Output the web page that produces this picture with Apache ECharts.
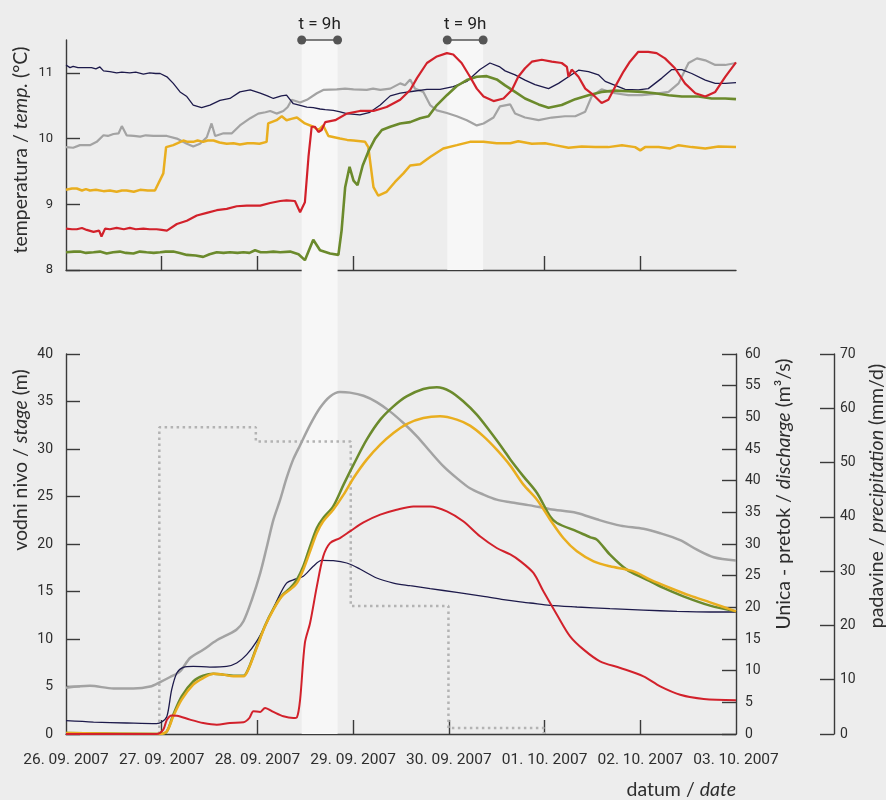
<!DOCTYPE html>
<html>
<head>
<meta charset="utf-8">
<script src="https://cdn.jsdelivr.net/npm/echarts@6/dist/echarts.min.js"></script>
<style>
  html, body { margin: 0; padding: 0; background: #ededed; }
  #chart { width: 886px; height: 800px; }
</style>
</head>
<body>
<div id="chart"></div>
<script>
// Time is in hours from 26. 09. 2007 00:00
const dayTicks = [0, 24, 48, 72, 96, 120, 144, 168];
const dayLabels = ['26. 09. 2007', '27. 09. 2007', '28. 09. 2007', '29. 09. 2007',
                   '30. 09. 2007', '01. 10. 2007', '02. 10. 2007', '03. 10. 2007'];
const tempTicks = [8, 9, 10, 11];

// 9-hour lag windows
const lagStarts = [59.1, 95.6];
const lagHours = 9;

// Water temperature (°C)
const tempNavy = [[0,11.12],[1,11.08],[1.8,11.10],[3,11.08],[3.5,11.11],[5,11.08],[6.4,11.08],[7.5,11.06],[8.5,11.09],[9.4,11.03],[11,11.02],[12.7,11.00],[14,11.01],[16,11.00],[17.5,11.01],[19.4,10.98],[21,11.00],[22.5,10.99],[23.6,10.99],[25.3,10.94],[26.9,10.84],[28.6,10.71],[30.3,10.64],[31.9,10.51],[34,10.47],[36.1,10.51],[38.6,10.58],[41.1,10.61],[43.6,10.71],[46.2,10.74],[48.7,10.69],[50.5,10.65],[52,10.61],[54,10.65],[55.3,10.66],[57,10.53],[60.4,10.48],[62,10.47],[63.7,10.45],[65,10.44],[67,10.43],[68.5,10.41],[70.4,10.38],[73.7,10.36],[76.2,10.40],[78.8,10.51],[81.3,10.65],[83.8,10.69],[87.1,10.72],[90.5,10.75],[93.8,10.75],[97.1,10.79],[100.5,10.87],[103.8,11.05],[106.3,11.15],[108.8,11.09],[110.1,11.03],[112.6,10.97],[115.1,10.89],[117.6,10.82],[121,10.76],[123.5,10.84],[126,10.94],[128.5,11.04],[131,11.02],[133.5,10.97],[135.2,10.87],[137.7,10.81],[140.2,10.75],[143.5,10.74],[146,10.76],[149.4,10.92],[151.9,11.05],[154.4,11.05],[156.9,10.99],[160.3,10.89],[162.8,10.84],[165.3,10.84],[168,10.85]];
const tempGray = [[0,9.87],[1.8,9.86],[3.5,9.90],[6,9.90],[7.7,9.95],[9.4,10.05],[10.5,10.04],[11.9,10.07],[13.2,10.08],[14,10.19],[15.2,10.05],[17,10.04],[18.6,10.03],[20,10.05],[21.9,10.04],[23.5,10.04],[25.3,10.04],[27.8,10.00],[30.3,9.92],[31.9,9.88],[33.6,9.92],[35.3,10.02],[36.5,10.23],[37.4,10.04],[39.5,10.08],[41.6,10.08],[43.6,10.20],[46.2,10.31],[48.2,10.38],[50,10.40],[51.2,10.42],[52.8,10.38],[54.5,10.42],[55.6,10.48],[56.6,10.59],[58.7,10.55],[60.4,10.59],[62.9,10.69],[64.5,10.74],[67.9,10.75],[70,10.76],[72.1,10.75],[75.4,10.74],[77,10.76],[78.8,10.74],[81.3,10.76],[83.8,10.84],[85,10.81],[86.3,10.90],[87.5,10.76],[89.6,10.71],[91.3,10.51],[93,10.43],[95.5,10.39],[98,10.34],[100.5,10.28],[103,10.20],[104.7,10.23],[107.2,10.32],[108.8,10.49],[111.4,10.52],[112.6,10.38],[115.1,10.32],[118.5,10.28],[121.8,10.32],[125.1,10.34],[127.7,10.34],[130.2,10.41],[131.8,10.64],[134.3,10.75],[137.7,10.69],[141,10.66],[144.4,10.66],[147.7,10.68],[151.1,10.71],[153.6,10.84],[156.1,11.15],[158.2,11.22],[160.3,11.19],[162.8,11.12],[165.3,11.12],[168,11.15]];
const tempYellow = [[0,9.22],[1.5,9.24],[2.7,9.24],[4,9.21],[5,9.23],[6,9.21],[7.5,9.22],[9.4,9.20],[11,9.21],[12.7,9.19],[14,9.21],[15.2,9.21],[17,9.19],[18.6,9.22],[20.5,9.21],[22.3,9.21],[24.4,9.47],[25.1,9.87],[26.9,9.90],[28,9.93],[29.4,9.97],[30.5,9.95],[31.9,9.95],[33,9.97],[34.4,9.95],[35.5,9.97],[37,9.97],[38.5,9.94],[40.3,9.92],[42,9.93],[43.6,9.91],[45.5,9.93],[47,9.93],[48.5,9.92],[50.3,9.95],[50.7,10.23],[52.8,10.28],[54.1,10.34],[55.3,10.28],[56.5,10.30],[57.9,10.32],[59.9,10.23],[62,10.18],[63.3,10.13],[64.5,10.20],[65.8,10.04],[68.7,10.00],[70.5,9.98],[72.1,9.97],[75,9.95],[75.8,9.87],[77.1,9.26],[78.3,9.13],[80.4,9.19],[82.5,9.34],[84.6,9.47],[86.3,9.59],[88.8,9.61],[91.3,9.72],[94.6,9.85],[98,9.90],[101.3,9.95],[104.7,9.95],[108,9.93],[111.4,9.93],[113.4,9.96],[116.8,9.92],[120.1,9.93],[122.6,9.90],[126,9.86],[129.3,9.88],[132.7,9.87],[136,9.87],[139.4,9.90],[142.7,9.87],[144,9.82],[145.2,9.87],[148.6,9.87],[151.5,9.85],[153.6,9.90],[156.9,9.87],[160.3,9.85],[163.6,9.88],[168,9.87]];
const tempRed = [[0,8.63],[1.5,8.62],[2.7,8.62],[4,8.64],[5.2,8.61],[6.9,8.58],[8.3,8.60],[8.9,8.51],[9.8,8.63],[11,8.62],[12.7,8.64],[14.5,8.62],[16,8.64],[17.5,8.62],[19.4,8.63],[21,8.62],[22.7,8.62],[24,8.61],[25.3,8.60],[27.8,8.70],[30.3,8.75],[32.8,8.83],[35.3,8.87],[37.8,8.91],[40.3,8.93],[42.8,8.97],[45.3,8.98],[48.7,8.98],[51.2,9.02],[53.7,9.05],[55.3,9.06],[57.4,9.05],[58.7,8.88],[59.9,9.03],[60.8,9.72],[61.6,10.18],[62.4,10.18],[63.3,10.10],[64.1,10.13],[65,10.25],[67.5,10.28],[70.4,10.38],[73.7,10.42],[77.1,10.42],[80.4,10.48],[83.8,10.59],[86.3,10.74],[88,10.92],[90.5,11.15],[93,11.25],[95.5,11.30],[97.1,11.28],[99.2,11.15],[101.3,10.94],[103,10.76],[104.7,10.64],[107.2,10.57],[109.7,10.61],[111.8,10.74],[113.4,10.94],[115.1,11.07],[116.8,11.17],[119.3,11.20],[121.8,11.17],[124.3,11.15],[125.6,11.09],[126,10.94],[126.8,11.05],[128.5,10.94],[130.2,10.76],[132.3,10.66],[134.3,10.54],[136,10.59],[137.7,10.79],[139.8,11.02],[141.4,11.17],[143.5,11.32],[146,11.32],[148.1,11.30],[150.2,11.22],[152.7,11.07],[155.2,10.84],[157.8,10.69],[160.3,10.64],[162.8,10.71],[165.3,10.94],[168,11.16]];
const tempGreen = [[0,8.27],[2,8.28],[3.5,8.28],[5,8.26],[6.9,8.27],[8.5,8.28],[10.2,8.25],[11.8,8.27],[13.5,8.28],[15,8.26],[16.9,8.25],[18.5,8.28],[20.2,8.27],[22,8.26],[23.6,8.27],[25,8.28],[26.9,8.28],[28.5,8.26],[30.3,8.23],[32.5,8.22],[34.4,8.20],[36,8.24],[37.8,8.27],[39.5,8.26],[41.1,8.27],[43,8.26],[44.5,8.27],[46,8.26],[47.4,8.30],[48.8,8.27],[50.3,8.27],[52,8.28],[53.7,8.27],[56.2,8.28],[58.3,8.24],[59.9,8.15],[62,8.46],[63.7,8.30],[66.2,8.25],[68.3,8.23],[69.1,8.60],[70,9.26],[71.1,9.57],[72.1,9.36],[73.1,9.29],[74.4,9.59],[75.8,9.80],[77.5,10.00],[79.2,10.13],[81.3,10.18],[83.8,10.23],[86.3,10.25],[88.8,10.31],[90.9,10.34],[93,10.51],[95.5,10.66],[98,10.80],[100.5,10.89],[103,10.94],[105.5,10.95],[108,10.90],[110.1,10.81],[112.6,10.71],[115.1,10.61],[118.5,10.52],[121,10.47],[124.3,10.51],[127.7,10.60],[131,10.66],[134.3,10.71],[137.7,10.73],[141,10.72],[144.4,10.71],[147.7,10.69],[151.1,10.66],[154.4,10.64],[158.6,10.64],[161.9,10.61],[165.3,10.61],[168,10.60]];

// Unica discharge (m3/s)
const dischargeGray = [[0,7.3],[6,7.6],[11.9,7.2],[16.9,7.2],[21.1,7.5],[23.6,8.2],[26.1,9.0],[28.6,9.9],[31.1,12.0],[34.4,13.3],[37.8,14.8],[40.3,15.6],[42.8,16.5],[44.5,17.8],[46.6,21.2],[48.7,25.4],[50.3,29.4],[52,33.8],[53.7,37.0],[55.3,40.4],[57,43.4],[58.7,45.6],[61.2,48.8],[63.7,51.5],[66.2,53.3],[68.7,54.0],[71.2,53.9],[74.6,53.4],[77.9,52.4],[81.3,50.9],[84.6,49.1],[88,47.0],[91.3,44.6],[94.6,42.3],[98,40.4],[101.3,38.8],[104.7,37.8],[108,37.0],[111.4,36.6],[116.4,36.1],[121.4,35.5],[128.1,34.9],[133.1,33.9],[139,32.9],[144.8,32.4],[149,31.7],[154,30.6],[158.2,29.1],[162.4,27.9],[168,27.4]];

// Water stage (m)
const stageNavy = [[0,1.40],[6.9,1.26],[15.2,1.16],[22.7,1.09],[24,1.26],[25.3,1.86],[26.5,4.67],[27.8,6.42],[29.4,7.02],[31.9,7.12],[36.1,7.05],[40.3,7.12],[42.8,7.47],[45.3,8.35],[47.8,9.75],[50.3,11.68],[52.8,13.96],[55.3,15.89],[57.5,16.3],[59.5,16.6],[62,17.65],[64.1,18.28],[67,18.25],[70.4,18.0],[73.7,17.37],[77.9,16.42],[82.1,15.89],[86.3,15.61],[91.3,15.30],[98,14.91],[104.7,14.49],[109.7,14.14],[113.9,13.90],[116.4,13.79],[121.4,13.54],[128.1,13.37],[136.4,13.19],[144.8,13.05],[153.2,12.91],[161.5,12.84],[168,12.84]];
const stageYellow = [[0,0.1],[23.6,0.0],[25.3,0.28],[26.9,1.86],[29,3.61],[31.9,5.19],[34.4,5.89],[37,6.35],[39.5,6.25],[42,6.07],[44.5,6.07],[45.7,6.77],[47.8,9.05],[49.9,11.33],[52,13.09],[54.1,14.49],[56.2,15.2],[57.9,15.89],[59.5,17.3],[61.2,19.23],[62.9,21.16],[64.5,22.39],[67,23.61],[69.6,25.19],[72.1,26.95],[75.4,28.88],[78.8,30.46],[82.1,31.68],[85.4,32.63],[89.6,33.26],[93.8,33.44],[98,33.09],[101.3,32.46],[104.7,31.33],[108,29.93],[111.4,28.25],[114.7,26.25],[118.1,24.67],[121.4,22.56],[124.7,20.63],[128.1,19.23],[132.3,18.18],[136.4,17.65],[142.3,17.12],[146.5,16.25],[151.5,15.37],[156.5,14.56],[161.5,13.86],[168,12.91]];
const stageGreen = [[0,0.1],[23.6,0.0],[25.3,0.28],[26.9,2.04],[29,3.96],[31.9,5.54],[34.4,6.14],[37,6.35],[39.5,6.25],[42,6.14],[44.5,6.14],[45.7,6.84],[47.8,9.16],[49.9,11.4],[52,13.16],[54.1,14.56],[56.2,15.35],[57.9,16.25],[59.5,17.65],[61.2,19.75],[62.9,21.68],[64.5,22.74],[67,23.96],[69.6,26.25],[72.1,28.35],[75.4,30.98],[78.8,33.09],[82.1,34.49],[85.4,35.54],[89.6,36.32],[93,36.49],[96.3,36.07],[99.6,35.02],[103,33.61],[106.3,31.86],[109.7,29.93],[111.4,28.9],[114.7,27.12],[118.1,25.37],[121.4,22.9],[123.1,22.21],[128.1,21.33],[131.5,20.7],[133.1,20.46],[136.4,18.88],[140.6,17.3],[144.8,16.42],[149.8,15.37],[154.8,14.49],[161.5,13.51],[168,12.91]];
const stageRed = [[0,0.0],[22.7,0.0],[24.4,0.46],[25.3,1.51],[26.5,1.96],[27.8,1.93],[31.1,1.51],[34.4,1.16],[37.8,0.98],[41.1,1.16],[44.5,1.23],[46,1.7],[47,2.39],[48.7,2.32],[49.9,2.74],[52,2.32],[54.5,1.86],[57,1.68],[57.9,1.75],[58.7,3.61],[59.9,9.58],[61.2,11.68],[62.9,15.54],[64.5,18.7],[66.2,20.1],[68.7,20.63],[71.2,21.33],[74.6,22.28],[78.8,23.09],[82.9,23.61],[87.1,23.96],[91.3,23.96],[95.5,23.44],[99.6,22.39],[103.8,20.81],[108,19.58],[111.4,18.9],[113.9,18.2],[117.2,16.95],[119.7,15.02],[123.1,12.56],[126.4,10.28],[129.8,8.88],[133.9,7.65],[139,6.95],[144.8,6.07],[149,5.02],[154,4.14],[159.9,3.68],[168,3.54]];

// Daily precipitation (mm/d) and the hours where each daily value starts / ends
const rainChangeHours = [23.4, 47.6, 71.4, 95.9, 119.8];
const rainDaily = [56.5, 53.9, 23.6, 1.1];

const C = {
  navy: '#1d1a4b', gray: '#a3a3a3', yellow: '#e9ae1f', red: '#d2212b', green: '#6b8a2c',
  rain: '#b3b3b3', axis: '#3a3a3a', text: '#2e2e2e', band: '#f7f7f7', bg: '#ededed'
};
const NARROW = "'Roboto', sans-serif";
const SANS = "'Lato', 'Noto Sans', sans-serif";

const rainData = [[rainChangeHours[0], 0]];
rainDaily.forEach((v, i) => rainData.push([rainChangeHours[i], v]));
rainData.push([rainChangeHours[rainChangeHours.length - 1], 0]);

const lagAreas = lagStarts.map(s => [{ xAxis: s }, { xAxis: s + lagHours }]);

function xAxisFor(grid, withLabels) {
  return {
    type: 'value', gridIndex: grid, min: 0, max: 168,
    axisLine: { show: true, onZero: false, lineStyle: { color: C.axis, width: 1.4 } },
    axisTick: { show: true, inside: true, length: 14, customValues: dayTicks.slice(1, -1),
                lineStyle: { color: C.axis, width: 1.4 } },
    axisLabel: withLabels ? {
      show: true, customValues: dayTicks, margin: 18, color: C.text,
      showMinLabel: true, showMaxLabel: true, hideOverlap: false,
      fontFamily: NARROW, fontSize: 15.5,
      formatter: v => dayLabels[dayTicks.indexOf(v)] || ''
    } : { show: false },
    splitLine: { show: false }
  };
}

function yAxisFor(grid, min, max, interval, position, offset, ticks, margin, size) {
  const ax = {
    type: 'value', gridIndex: grid, min, max, position, offset,
    axisLine: { show: true, onZero: false, lineStyle: { color: C.axis, width: 1.4 } },
    axisTick: { show: true, inside: true, length: 14, lineStyle: { color: C.axis, width: 1.4 } },
    axisLabel: { color: C.text, fontFamily: NARROW, fontSize: size, margin,
                 showMinLabel: true, showMaxLabel: true },
    splitLine: { show: false }
  };
  if (interval) ax.interval = interval;
  if (ticks) { ax.axisTick.customValues = ticks; ax.axisLabel.customValues = ticks; }
  return ax;
}

function tempLine(name, data, color, width) {
  return { name, type: 'line', xAxisIndex: 0, yAxisIndex: 0, data, showSymbol: false,
           lineStyle: { color, width }, z: 3, animation: false };
}
function stageLine(name, data, color, width, yIdx) {
  return { name, type: 'line', xAxisIndex: 1, yAxisIndex: yIdx, data, showSymbol: false,
           smooth: 0.3, lineStyle: { color, width }, z: 3, animation: false };
}

function axisTitle(x, y, parts, size) {
  return {
    type: 'text', x, y, rotation: Math.PI / 2,
    style: {
      text: parts, align: 'center', verticalAlign: 'middle',
      rich: {
        n: { fontFamily: SANS, fontSize: size, fill: C.text, color: C.text },
        i: { fontFamily: SANS, fontSize: size, fontStyle: 'italic', fill: C.text, color: C.text }
      }
    }
  };
}

const chart = echarts.init(document.getElementById('chart'), null, { renderer: 'canvas' });
chart.setOption({
  backgroundColor: C.bg,
  animation: false,
  grid: [
    { left: 66, right: 150, top: 40, height: 230 },
    { left: 66, right: 150, top: 354, height: 380 },
    { left: 66, right: 150, top: 40, height: 694 }
  ],
  xAxis: [
    xAxisFor(0, false),
    xAxisFor(1, true),
    { type: 'value', gridIndex: 2, min: 0, max: 168, show: false }
  ],
  yAxis: [
    yAxisFor(0, 8, 11.5, null, 'left', 0, tempTicks, 13, 13),
    yAxisFor(1, 0, 40, 5, 'left', 0, null, 13, 14),
    yAxisFor(1, 0, 60, 5, 'right', 0, null, 9, 14),
    yAxisFor(1, 0, 70, 10, 'right', 98, null, 6, 14),
    { type: 'value', gridIndex: 2, min: 0, max: 1, show: false }
  ],
  graphic: [
    axisTitle(21, 150, '{n|temperatura / }{i|temp.}{n| (°C)}', 19.5),
    axisTitle(21, 460, '{n|vodni nivo / }{i|stage}{n| (m)}', 19.5),
    axisTitle(784, 494, '{n|Unica - pretok / }{i|discharge}{n| (m³/s)}', 19.5),
    axisTitle(877, 496, '{n|padavine / }{i|precipitation}{n| (mm/d)}', 19.5),
    {
      type: 'text', x: 736, y: 790,
      style: {
        text: '{n|datum / }{i|date}', align: 'right', verticalAlign: 'middle',
        rich: {
          n: { fontFamily: SANS, fontSize: 19.5, fill: C.text, color: C.text },
          i: { fontFamily: SANS, fontSize: 19.5, fontStyle: 'italic', fill: C.text, color: C.text }
        }
      }
    }
  ],
  series: [
    // full-height lag window through both panels
    { type: 'line', xAxisIndex: 2, yAxisIndex: 4, data: [], z: 1, silent: true,
      markArea: { silent: true, itemStyle: { color: C.band, opacity: 1 }, data: [lagAreas[0]] } },
    // second lag window, temperature panel only
    { type: 'line', xAxisIndex: 0, yAxisIndex: 0, data: [], z: 1, silent: true, clip: false,
      markArea: { silent: true, itemStyle: { color: C.band, opacity: 1 }, data: [lagAreas[1]] } },
    // 9 h markers above both windows
    { type: 'line', xAxisIndex: 0, yAxisIndex: 0, data: [], z: 5, silent: true, clip: false,
      markLine: {
        silent: true, symbol: ['circle', 'circle'], symbolSize: 9,
        lineStyle: { color: '#555', width: 1.5, type: 'solid' },
        itemStyle: { color: '#1e1e1e' },
        label: { show: true, position: 'insideMiddleTop', distance: 7, formatter: 't = ' + lagHours + 'h',
                 color: '#222', fontFamily: NARROW, fontSize: 17 },
        data: lagStarts.map(s => [{ coord: [s, 11.5] }, { coord: [s + lagHours, 11.5] }])
      } },
    tempLine('temp gray', tempGray, C.gray, 2.2),
    tempLine('temp yellow', tempYellow, C.yellow, 2.5),
    tempLine('temp navy', tempNavy, C.navy, 1.3),
    tempLine('temp green', tempGreen, C.green, 2.6),
    tempLine('temp red', tempRed, C.red, 2.2),
    { name: 'padavine', type: 'line', xAxisIndex: 1, yAxisIndex: 3, data: rainData, step: 'end',
      showSymbol: false, z: 2, lineStyle: { color: C.rain, width: 2.5, type: [2.5, 3.5] } },
    stageLine('pretok', dischargeGray, C.gray, 2.5, 2),
    stageLine('stage navy', stageNavy, C.navy, 1.3, 1),
    stageLine('stage green', stageGreen, C.green, 2.5, 1),
    stageLine('stage yellow', stageYellow, C.yellow, 2.5, 1),
    stageLine('stage red', stageRed, C.red, 2, 1)
  ]
});
</script>
</body>
</html>
